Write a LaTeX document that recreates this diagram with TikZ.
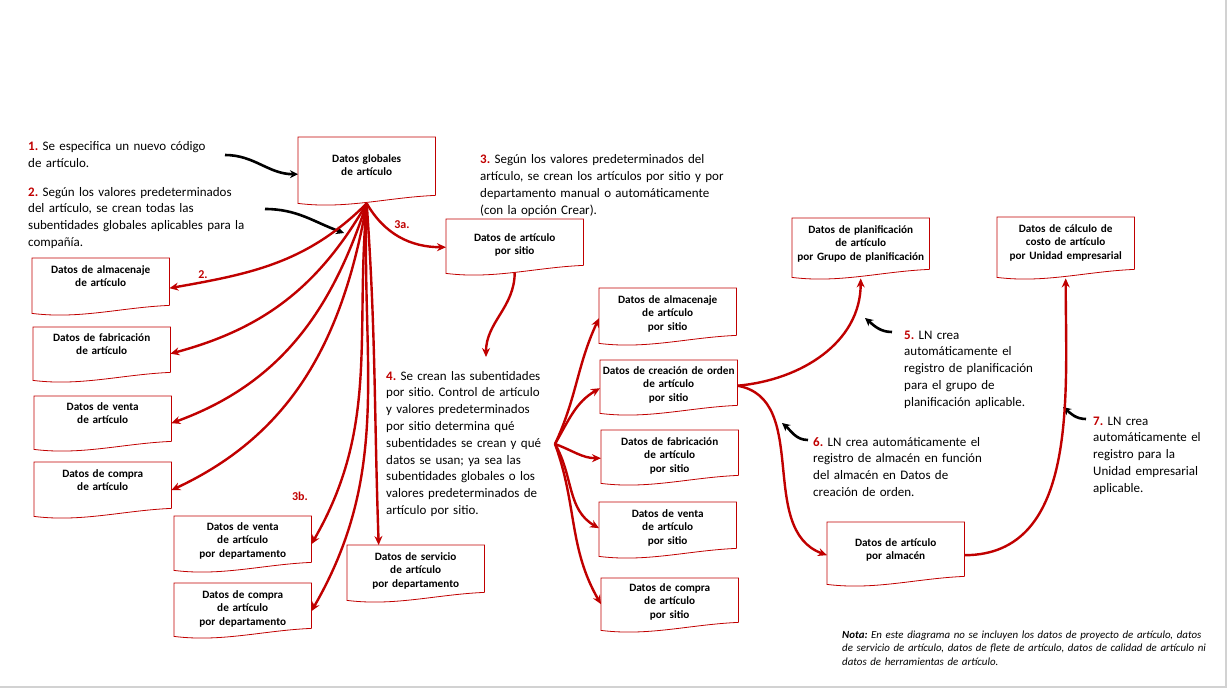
\documentclass[tikz,border=0pt]{standalone}
\usepackage{fontspec}
\setmainfont{Carlito}
\usepackage{tikz}
\usetikzlibrary{arrows.meta}
\usepackage{xcolor}
\definecolor{docred}{RGB}{192,0,0}
\frenchspacing

\begin{document}
\begin{tikzpicture}[x=1pt, y=1pt]
    % ================= 样式定义 =================
    \tikzset{
        % 文档框 (波浪底边另外画)
        doc/.style={anchor=north west, text width=129pt, align=center, inner xsep=4pt, inner ysep=3pt,
            text height=12pt, text depth=29pt, font=\fontsize{11.2}{13.5}\selectfont\bfseries},
        % 文档框轮廓
        doc_line/.style={draw=docred, line width=0.8pt},
        % 说明文字
        note/.style={anchor=base west, text width=300pt, align=left, inner sep=0pt, font=\fontsize{13}{16.8}\selectfont},
        % 红色编号
        tag/.style={text=docred, font=\fontsize{12}{14}\selectfont\bfseries},
        % 红色箭头
        red_arrow/.style={draw=docred, line width=2.4pt, -{Stealth[length=9pt, width=8pt]}},
        % 黑色提示箭头
        black_arrow/.style={draw=black, line width=2.6pt, -{Stealth[length=8pt, width=8pt]}}
    }
    \newcommand{\num}[1]{\textcolor{docred}{\textbf{#1}}}

    \useasboundingbox (0,0) rectangle (1229,-690);
    \draw[gray!35, line width=1.2pt] (0,-687) -- (1226,-687) -- (1226,0);

    % ================= 全局部分 =================
    \node[doc, text height=22pt, text depth=30pt] (glob) at (298,-137) {Datos globales\\de artículo};
    \node[doc, text height=19pt, text depth=21pt] (sitio) at (446,-219) {Datos de artículo\\por sitio};

    \node[doc] (almL) at (32,-258) {Datos de almacenaje\\de artículo};
    \node[doc, text height=11pt, text depth=28pt] (fabL) at (33,-327) {Datos de fabricación\\de artículo};
    \node[doc, text height=11pt, text depth=28pt] (ventaL) at (34,-396) {Datos de venta\\de artículo};
    \node[doc, text depth=28pt] (compraL) at (34,-462) {Datos de compra\\de artículo};

    \node[doc, text height=11pt] (ventaD) at (174,-516) {Datos de venta\\de artículo\\por departamento};
    \node[doc, text depth=27pt] (compraD) at (174,-583) {Datos de compra\\de artículo\\por departamento};
    \node[doc] (servD) at (347,-545) {Datos de servicio\\de artículo\\por departamento};

    % ================= 按地点部分 =================
    \node[doc] (almS) at (599,-288) {Datos de almacenaje\\de artículo\\por sitio};
    \node[doc, text height=11pt, text depth=28pt] (ordS) at (600,-360) {\makebox[\linewidth][c]{Datos de creación de orden}\\de artículo\\por sitio};
    \node[doc, text depth=27pt] (fabS) at (601,-430) {Datos de fabricación\\de artículo\\por sitio};
    \node[doc, text depth=28pt] (ventaS) at (599,-502) {Datos de venta\\de artículo\\por sitio};
    \node[doc, text height=10pt, text depth=28pt] (compraS) at (601,-578) {Datos de compra\\de artículo\\por sitio};

    \node[doc, text depth=33pt] (plan) at (792,-218) {Datos de planificación\\de artículo\\\makebox[\linewidth][c]{por Grupo de planificación}};
    \node[doc, text depth=34pt] (costo) at (997,-217) {Datos de cálculo de\\costo de artículo\\por Unidad empresarial};
    \node[doc, text height=21pt, text depth=27pt] (almacen) at (827,-522) {Datos de artículo\\por almacén};

    % 文档框轮廓 (波浪底边)
    \foreach \n in {glob, sitio, almL, fabL, ventaL, compraL, ventaD, compraD, servD,
                    almS, ordS, fabS, ventaS, compraS, plan, costo, almacen}
        \draw[doc_line] (\n.south east) -- (\n.north east) -- (\n.north west) -- ([yshift=-8pt]\n.south west)
            .. controls ([xshift=48pt, yshift=-14pt]\n.south west) and ([xshift=-48pt, yshift=-2pt]\n.south east) .. (\n.south east);

    % ================= 说明文字 =================
    \node[note] (t1) at (28,-151) {\num{1.} Se especifica un nuevo código\\de artículo.};
    \node[note] (t2) at (28,-196) {\num{2.} Según los valores predeterminados\\del artículo, se crean todas las\\subentidades globales aplicables para la\\compañía.};
    \node[note] (t3) at (480,-164) {\num{3.} Según los valores predeterminados del\\artículo, se crean los artículos por sitio y por\\departamento manual o automáticamente\\(con la opción Crear).};
    \node[note] (t4) at (386,-380) {\num{4.} Se crean las subentidades\\por sitio. Control de artículo\\y valores predeterminados\\por sitio determina qué\\subentidades se crean y qué\\datos se usan; ya sea las\\subentidades globales o los\\valores predeterminados de\\artículo por sitio.};
    \node[note] (t5) at (904,-339) {\num{5.} LN crea\\automáticamente el\\registro de planificación\\para el grupo de\\planificación aplicable.};
    \node[note] (t6) at (813,-446) {\num{6.} LN crea automáticamente el\\registro de almacén en función\\del almacén en Datos de\\creación de orden.};
    \node[note] (t7) at (1093,-425) {\num{7.} LN crea\\automáticamente el\\registro para la\\Unidad empresarial\\aplicable.};
    \node[note, text width=380pt, font=\fontsize{10.9}{13.5}\selectfont\itshape] (nota) at (842,-638)
        {\textbf{Nota:} En este diagrama no se incluyen los datos de proyecto de artículo, datos\\de servicio de artículo, datos de flete de artículo, datos de calidad de artículo ni\\datos de herramientas de artículo.};

    \node[tag] (tag2) at (203,-275) {2.};
    \node[tag] (tag3a) at (402,-225) {3a.};
    \node[tag] (tag3b) at (300,-496) {3b.};

    % ================= 黑色提示箭头 =================
    \coordinate (b1s) at (225,-155);
    \coordinate (b2s) at (265,-209);
    \coordinate (b2e) at (344,-233);
    \coordinate (b5s) at (892,-332);
    \coordinate (b5e) at (865,-318);
    \coordinate (b6s) at (808,-440);
    \coordinate (b6e) at (782,-423);
    \coordinate (b7s) at (1086,-419);
    \coordinate (b7e) at (1063,-407);
    \draw[black_arrow] (b1s) to[out=0, in=180] ([yshift=-8pt]glob.west);
    \draw[black_arrow] (b2s) to[out=0, in=160] (b2e);
    \draw[black_arrow] (b5s) to[out=180, in=-40] (b5e);
    \draw[black_arrow] (b6s) to[out=180, in=-40] (b6e);
    \draw[black_arrow] (b7s) to[out=180, in=-40] (b7e);

    % ================= 红色箭头: 全局子实体 =================
    \coordinate (J) at ([yshift=-8pt]glob.south);
    \draw[red_arrow] (J) to[out=-135, in=10] ([yshift=-6.5pt]almL.east);
    \draw[red_arrow] (J) to[out=-120, in=15] ([yshift=-4pt]fabL.east);
    \draw[red_arrow] (J) to[out=-108, in=20] ([yshift=-4.5pt]ventaL.east);
    \draw[red_arrow] (J) to[out=-100, in=25] ([yshift=-5pt]compraL.east);
    \draw[red_arrow] (J) to[out=-95, in=60] ([yshift=-5pt]ventaD.east);
    \draw[red_arrow] (J) to[out=-92, in=60] ([yshift=-5.5pt]compraD.east);
    \draw[red_arrow] (J) to[out=-86, in=92] ([xshift=-37pt]servD.north);
    \draw[red_arrow] (J) to[out=-60, in=180] ([yshift=-5pt]sitio.west);

    % ================= 红色箭头: 按地点 =================
    \coordinate (t4_top) at (486,-357);
    \coordinate (K) at (555,-444);
    \draw[red_arrow] ([yshift=-7pt]sitio.south) to[out=-90, in=90] (t4_top);
    \draw[red_arrow] (K) to[out=65, in=-115] ([yshift=-6.5pt]almS.west);
    \draw[red_arrow] (K) to[out=60, in=-150] ([yshift=-5.5pt]ordS.west);
    \draw[red_arrow] (K) to[out=-20, in=180] ([yshift=-5.5pt]fabS.west);
    \draw[red_arrow] (K) to[out=-60, in=150] ([yshift=-3pt]ventaS.west);
    \draw[red_arrow] (K) to[out=-70, in=120] ([yshift=-4pt]compraS.west);

    % ================= 红色箭头: LN 自动创建 =================
    \draw[red_arrow] ([yshift=-3pt]ordS.east) to[out=5, in=-90] ([yshift=-9pt]plan.south);
    \draw[red_arrow] ([yshift=-3pt]ordS.east) to[out=-10, in=160] ([yshift=-6pt]almacen.west);
    \draw[red_arrow] ([yshift=-6pt]almacen.east) to[out=0, in=-90] ([yshift=-9pt]costo.south);
\end{tikzpicture}
\end{document}
